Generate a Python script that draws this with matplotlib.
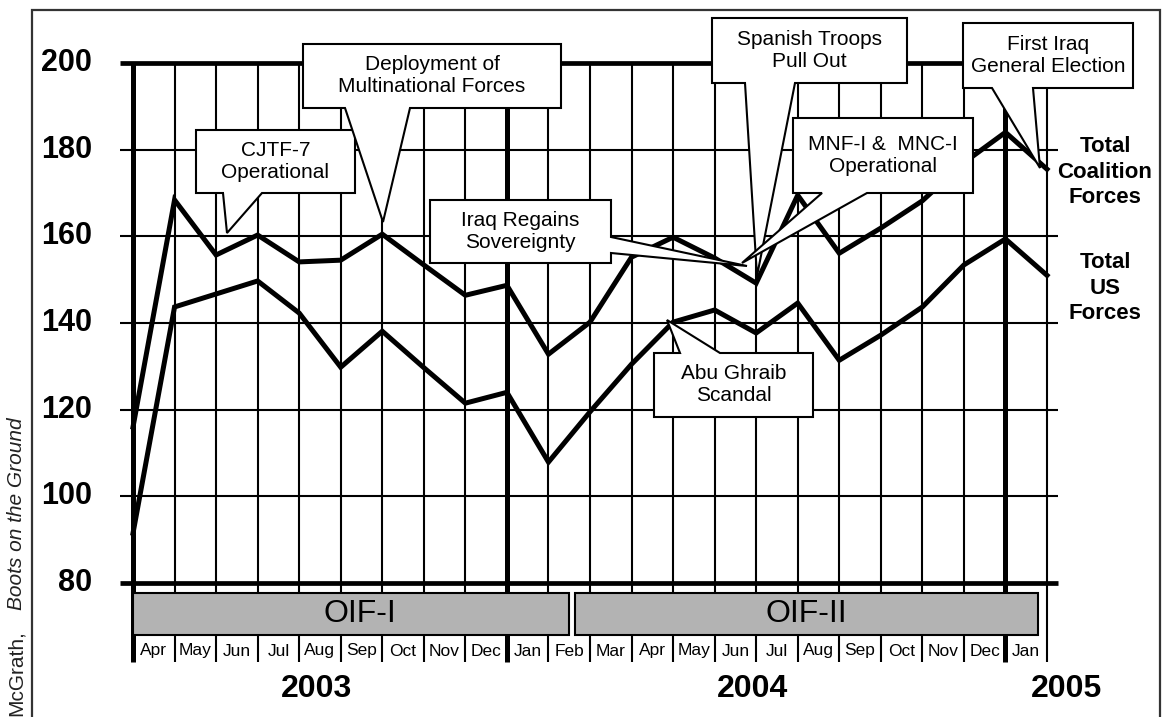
import matplotlib
matplotlib.use("Agg")
import matplotlib.pyplot as plt
from matplotlib.patches import Polygon, Rectangle

plt.rcParams['font.family'] = ['Liberation Sans', 'DejaVu Sans']

# data: troop levels (thousands), one point per month boundary
months = ['Apr', 'May', 'Jun', 'Jul', 'Aug', 'Sep', 'Oct', 'Nov', 'Dec', 'Jan', 'Feb',
          'Mar', 'Apr', 'May', 'Jun', 'Jul', 'Aug', 'Sep', 'Oct', 'Nov', 'Dec', 'Jan']
coalition = [116, 168.4, 155.7, 160.3, 154.1, 154.5, 160.5, 153.4, 146.4, 148.7, 132.8,
             140.2, 155.2, 159.8, 155, 149.2, 169.5, 156.1, 161.9, 168.2, 177, 184, 175.5]
us_forces = [91.5, 143.7, 146.7, 149.7, 142.3, 129.8, 138.1, 129.7, 121.5, 124, 107.9,
             119.5, 130.5, 140.2, 143, 137.7, 144.6, 131.4, 137.2, 143.7, 153.4, 159.4, 151]
yticks = [80, 100, 120, 140, 160, 180, 200]
years = ['2003', '2004', '2005']
phases = ['OIF-I', 'OIF-II']


# pixel -> data helpers (figure is 1163x717 px, axes fill it)
def dx(px):
    return (px - 133) / 41.545


def dy(py):
    return 80 + (583 - py) / 4.3333


fig = plt.figure(figsize=(11.63, 7.17), dpi=100)
ax = fig.add_axes([0, 0, 1, 1])
ax.set_xlim(dx(0), dx(1163))
ax.set_ylim(dy(717), dy(0))
ax.axis('off')

# outer frame
ax.plot([dx(32), dx(32), dx(1160), dx(1160)], [dy(720), dy(10), dy(10), dy(720)],
        color='#333333', lw=1.6, solid_joinstyle='miter')

# horizontal grid
for v in yticks:
    thick = v in (80, 200)
    ax.plot([dx(120), dx(1058)], [v, v], color='black', lw=3.4 if thick else 1.5,
            zorder=2 if thick else 1, solid_capstyle='butt')
    ax.text(dx(92), v, str(v), ha='right', va='center', fontsize=22, fontweight='bold')

# vertical grid (month boundaries)
n = len(coalition)
for i in range(n):
    thick = i in (0, 9, 21)
    ax.plot([i, i], [dy(662), 200], color='black', lw=3.6 if thick else 1.5,
            zorder=2 if thick else 1, solid_capstyle='butt')

# data lines
x = list(range(n))
ax.plot(x, coalition, color='black', lw=3.6, solid_joinstyle='miter', zorder=3)
ax.plot(x, us_forces, color='black', lw=3.6, solid_joinstyle='miter', zorder=3)

# phase bands
spans = [(0, 10.5), (10.65, 21.78)]
for name, (a, b) in zip(phases, spans):
    ax.add_patch(Rectangle((a, dy(635)), b - a, dy(593) - dy(635), fc='#b3b3b3',
                           ec='black', lw=1.5, zorder=4))
    ax.text((a + b) / 2 + (0.2 if name == 'OIF-I' else 0), dy(614), name, ha='center',
            va='center', fontsize=23, zorder=5)

# month labels
for i, m in enumerate(months):
    ax.text(i + 0.5, dy(651), m, ha='center', va='center', fontsize=12.5)

# year labels
for yr, px in zip(years, [316, 753, 1067]):
    ax.text(dx(px), dy(689), yr, ha='center', va='center', fontsize=23, fontweight='bold')

# series labels on the right
ax.text(dx(1105), dy(172), 'Total\nCoalition\nForces', ha='center', va='center',
        fontsize=16, fontweight='bold', linespacing=1.3)
ax.text(dx(1105), dy(288), 'Total\nUS\nForces', ha='center', va='center',
        fontsize=16, fontweight='bold', linespacing=1.3)

# source, rotated
ax.text(dx(16), dy(716), 'McGrath,', rotation=90, rotation_mode='anchor',
        ha='left', va='center', fontsize=15, color='#222222')
ax.text(dx(16), dy(610), 'Boots on the Ground', rotation=90, rotation_mode='anchor',
        ha='left', va='center', fontsize=15, style='italic', color='#222222')


# callouts: box (px) with a wedge pointer
def callout(text, x0, y0, x1, y1, side, b0, b1, tip):
    pts = [(x0, y0)]
    if side == 'top':
        pts += [(b0, y0), tip, (b1, y0)]
    pts += [(x1, y0)]
    if side == 'right':
        pts += [(x1, b0), tip, (x1, b1)]
    pts += [(x1, y1)]
    if side == 'bottom':
        pts += [(b1, y1), tip, (b0, y1)]
    pts += [(x0, y1)]
    poly = Polygon([(dx(p), dy(q)) for p, q in pts], closed=True, fc='white',
                   ec='black', lw=1.5, joinstyle='miter', zorder=6)
    ax.add_patch(poly)
    ax.text(dx((x0 + x1) / 2), dy((y0 + y1) / 2), text, ha='center', va='center',
            fontsize=15, linespacing=1.2, zorder=7)


callout('CJTF-7\nOperational', 196, 130, 355, 193, 'bottom', 223, 262, (227, 233))
callout('Deployment of\nMultinational Forces', 303, 44, 561, 108, 'bottom', 345, 410, (383, 222))
callout('Spanish Troops\nPull Out', 712, 18, 907, 83, 'bottom', 745, 795, (757, 276))
callout('MNF-I &  MNC-I\nOperational', 793, 118, 973, 193, 'bottom', 822, 867, (742, 263))
callout('Iraq Regains\nSovereignty', 430, 200, 611, 263, 'right', 237, 253, (747, 266))
callout('Abu Ghraib\nScandal', 654, 353, 813, 417, 'top', 680, 720, (667, 320))
callout('First Iraq\nGeneral Election', 963, 23, 1133, 88, 'bottom', 992, 1033, (1040, 168))

fig.savefig('out.png', dpi=100)
